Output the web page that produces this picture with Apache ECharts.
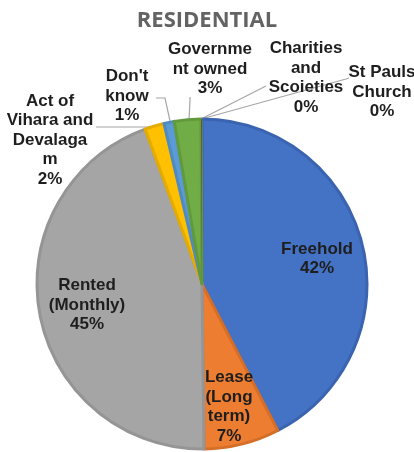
<!DOCTYPE html>
<html>
<head>
<meta charset="utf-8">
<style>
  html, body { margin: 0; padding: 0; background: #ffffff; }
  #chart { width: 414px; height: 452px; }
</style>
<script src="https://cdn.jsdelivr.net/npm/echarts@6/dist/echarts.min.js"></script>
</head>
<body>
<div id="chart"></div>
<script>
// Residential land tenure shares (percent)
const categories = [
  'Freehold',
  'Lease (Long term)',
  'Rented (Monthly)',
  'Act of Vihara and Devalagam',
  "Don't know",
  'Government owned',
  'Charities and Scoieties',
  'St Pauls Church'
];
const values = [42.4, 7.4, 44.6, 1.9, 1.0, 2.6, 0.06, 0.04];
// Label text as wrapped on the chart
const labelText = [
  'Freehold',
  'Lease\n(Long\nterm)',
  'Rented\n(Monthly)',
  'Act of\nVihara and\nDevalaga\nm',
  "Don't\nknow",
  'Governme\nnt owned',
  'Charities\nand\nScoieties',
  'St Pauls\nChurch'
];

const fills   = ['#4472C4', '#ED7D31', '#A5A5A5', '#FFC000', '#5B9BD5', '#70AD47', '#264478', '#9E480E'];
const borders = ['#3A63B0', '#D56E27', '#959595', '#E5AC00', '#4F8AC2', '#62993D', '#203A68', '#8A3E0C'];
const borderWidths = [3, 3, 3, 3, 3, 3, 0, 0];
const insideLabels = [true, true, true, false, false, false, false, false];

// Label placement and leader lines
const labelSpots = [
  { x: 317, y: 259 },
  { x: 229, y: 407 },
  { x: 87,  y: 305 },
  { x: 50,  y: 140, line: [[96, 127], [148, 127], [154, 126]] },
  { x: 127, y: 96,  line: [[156, 98], [165, 98], [170, 121]] },
  { x: 210, y: 69,  line: [[190, 97], [190, 100], [189, 120]] },
  { x: 306, y: 78,  line: [[266, 86], [264, 87], [203, 118]] },
  { x: 382, y: 92,  line: [[349, 78], [346, 79], [205, 118]] }
];

const chart = echarts.init(document.getElementById('chart'), null, { renderer: 'canvas' });

const data = categories.map((name, i) => ({
  name: name,
  value: values[i],
  itemStyle: { color: fills[i], borderColor: borders[i], borderWidth: borderWidths[i] },
  label: { position: insideLabels[i] ? 'inside' : 'outside' },
  labelLine: { show: !insideLabels[i] }
}));

chart.setOption({
  animation: false,
  title: {
    text: 'RESIDENTIAL',
    left: 'center',
    top: 5,
    textStyle: {
      fontFamily: 'Open Sans',
      fontWeight: 'bold',
      fontSize: 22,
      color: '#636363'
    }
  },
  series: [{
    type: 'pie',
    center: [202, 284],
    radius: 165,
    startAngle: 90,
    clockwise: true,
    avoidLabelOverlap: false,
    data: data,
    label: {
      show: true,
      formatter: p => labelText[p.dataIndex] + '\n' + Math.round(p.value) + '%',
      fontFamily: 'Liberation Sans',
      fontWeight: 'bold',
      fontSize: 17,
      lineHeight: 19.5,
      color: '#1e1e1e',
      align: 'center'
    },
    labelLine: {
      show: true,
      lineStyle: { color: '#A6A6A6', width: 1.2 }
    },
    labelLayout: function (params) {
      const s = labelSpots[params.dataIndex];
      const out = { x: s.x, y: s.y, align: 'center', verticalAlign: 'middle' };
      if (s.line) out.labelLinePoints = s.line;
      return out;
    }
  }]
});
</script>
</body>
</html>
